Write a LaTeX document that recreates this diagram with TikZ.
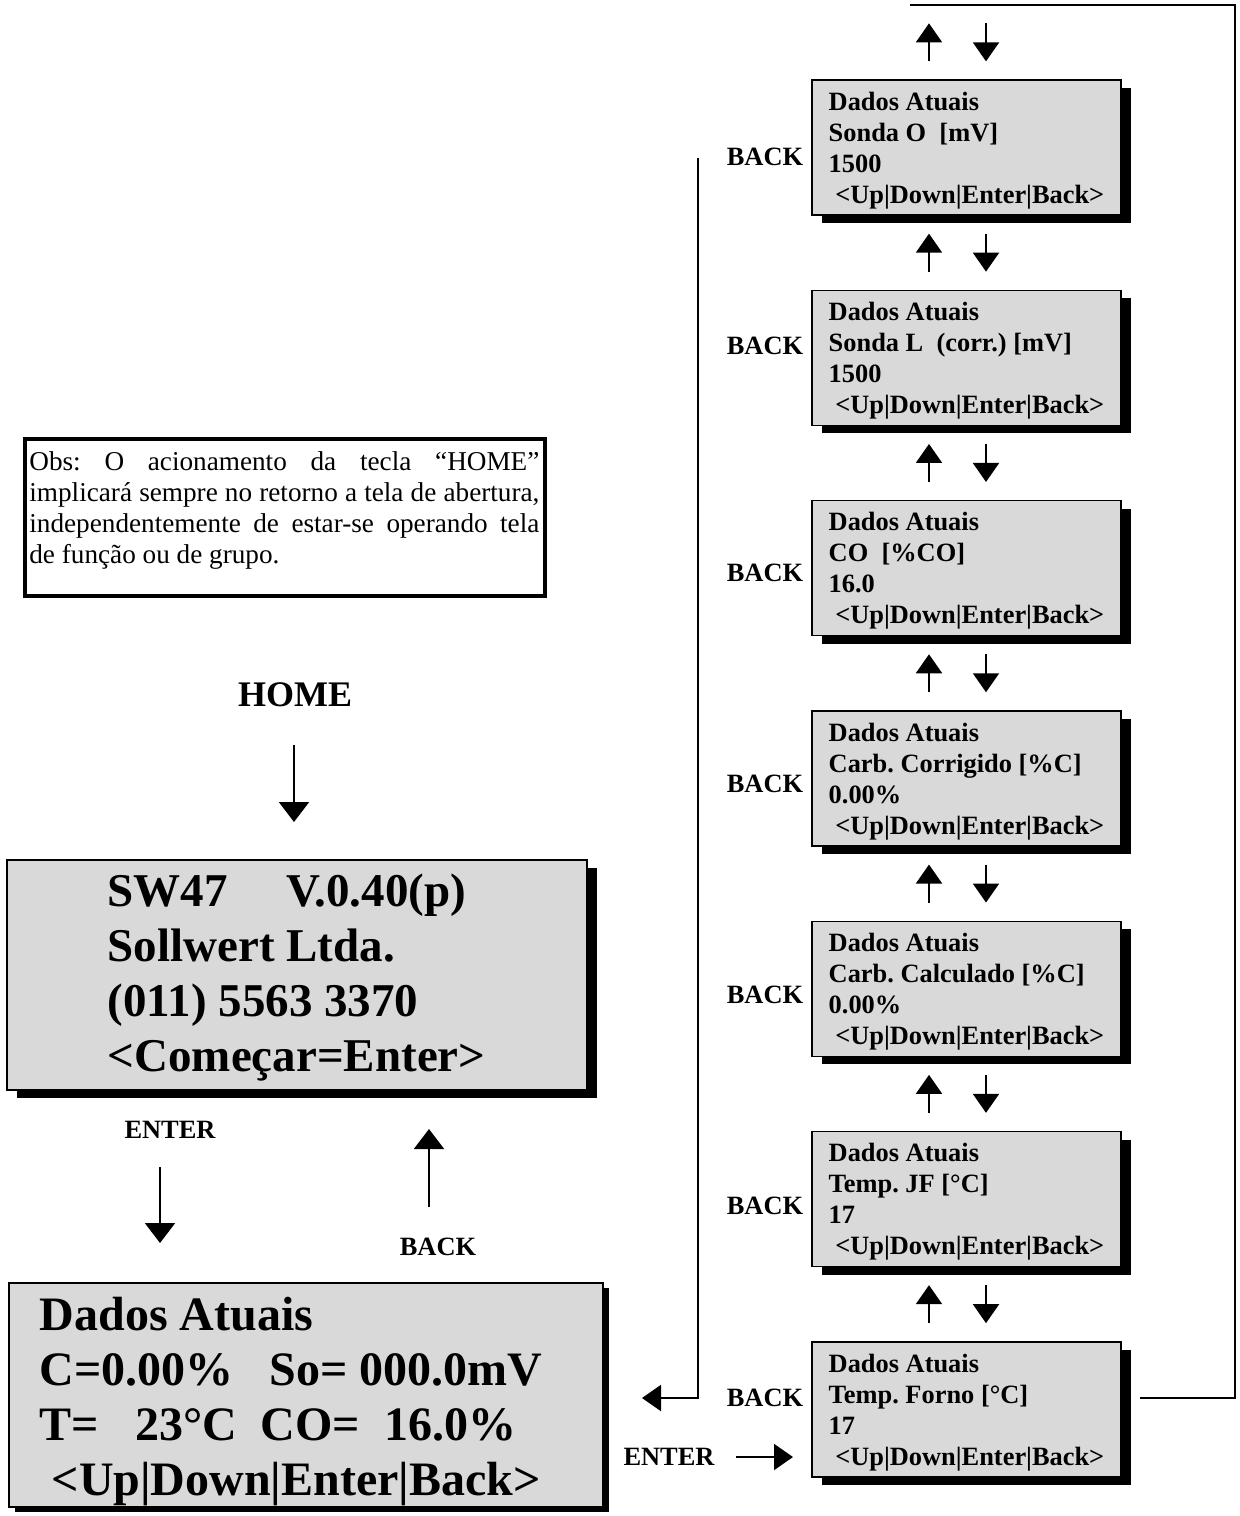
\documentclass[tikz,border=0pt]{standalone}
\usepackage{fontspec}
\setmainfont{Liberation Serif}
\usetikzlibrary{arrows.meta,shadows}
\definecolor{lcdgray}{HTML}{D9D9D9}
\frenchspacing
\tikzset{
  lcd/.style={draw=black, line width=0.7pt, fill=lcdgray, inner sep=0pt},
  smalllcd/.style={lcd, minimum width=154.5pt, minimum height=67.5pt,
    drop shadow={shadow xshift=5pt, shadow yshift=-4pt, fill=black, opacity=1}},
  lcdtext/.style={anchor=west, inner sep=0pt, align=left,
    font=\bfseries\fontsize{13.2}{15.5}\selectfont},
  keylabel/.style={inner sep=0pt, font=\bfseries\fontsize{13.2}{15}\selectfont},
  flow/.style={line width=1pt, -{Triangle[width=13pt,length=9.5pt]}},
  bigflow/.style={line width=1pt, -{Triangle[width=15pt,length=10pt]}},
  wire/.style={line width=1pt},
}
\begin{document}
\begin{tikzpicture}[x=0.5pt,y=-0.5pt]
\useasboundingbox (0,0) rectangle (1239,1516);

% ---- right column: the seven "Dados Atuais" screens ----
\foreach \i/\ln/\val/\by in {
  1/{Sonda O~~[mV]}/1500/157,
  2/{Sonda L~~(corr.) [mV]}/1500/346,
  3/{CO~~[\%CO]}/16.0/573,
  4/{Carb. Corrigido [\%C]}/{0.00\%}/784,
  5/{Carb. Calculado [\%C]}/{0.00\%}/995,
  6/{Temp. JF [°C]}/17/1206,
  7/{Temp. Forno [°C]}/17/1398}{
  \pgfmathsetmacro\yy{147.5+210.3*(\i-1)}
  \node[smalllcd] (s\i) at (966.5,\yy) {};
  \node[lcdtext] (s\i txt) at ([xshift=8.5pt,yshift=-1.5pt]s\i.west)
    {Dados Atuais\\\ln\\\val\\\hspace*{0.25em}<Up|Down|Enter|Back>};
  \node[keylabel] (back\i) at (765,\by) {BACK};
}

% ---- up / down arrow pairs around the screens ----
\foreach \k in {0,...,6}{
  \pgfmathsetmacro\yc{42.35+210.3*\k}
  \coordinate (upS\k) at (929,\yc+19);
  \coordinate (upT\k) at (929,\yc-19);
  \coordinate (dnS\k) at (986,\yc-19);
  \coordinate (dnT\k) at (986,\yc+19);
  \draw[flow] (upS\k) -- (upT\k);
  \draw[flow] (dnS\k) -- (dnT\k);
}

% ---- BACK return line to the data screen ----
\coordinate (retTop) at (698,158);
\coordinate (retCorner) at (698,1398);
\coordinate (retTip) at (642,1398);
\draw[flow] (retTop) -- (retCorner) -- (retTip);

% ---- ENTER into the last screen ----
\node[keylabel] (enterR) at (669,1457) {ENTER};
\coordinate (entS) at (736,1457);
\coordinate (entT) at (793,1457);
\draw[flow] (entS) -- (entT);

% ---- wrap-around line from the last screen to the top ----
\coordinate (loopA) at (1140,1398);
\coordinate (loopB) at (1235,1398);
\coordinate (loopC) at (1235,5);
\coordinate (loopD) at (910,5);
\draw[wire] (loopA) -- (loopB) -- (loopC) -- (loopD);

% ---- note ----
\node[draw, line width=2pt, minimum width=260pt, minimum height=78.5pt, inner sep=0pt]
  (note) at (285,517) {};
\node[anchor=north west, inner sep=0pt, text width=255pt, align=justify,
  font=\fontsize{13.6}{15.5}\selectfont] (notetxt) at (29,451)
  {\tolerance=10000\hyphenpenalty=10000
   Obs: O acionamento da tecla “HOME”\linebreak
   implicará sempre no retorno a tela de abertura,\linebreak
   independentemente de estar-se operando tela\linebreak
   de função ou de grupo.};

% ---- HOME and start screen ----
\node[inner sep=0pt, font=\bfseries\fontsize{18}{20}\selectfont] (homelbl) at (295,695) {HOME};
\coordinate (homeS) at (294,745);
\coordinate (homeT) at (294,822);
\draw[bigflow] (homeS) -- (homeT);

\node[lcd, minimum width=290pt, minimum height=115pt,
  drop shadow={shadow xshift=5pt, shadow yshift=-4pt, fill=black, opacity=1}]
  (home) at (297,975) {};
\node[anchor=west, inner sep=0pt, align=left,
  font=\bfseries\fontsize{23.5}{27.5}\selectfont] (hometxt)
  at ([xshift=50.5pt,yshift=-1.5pt]home.west)
  {SW47~~~~~V.0.40(p)\\Sollwert Ltda.\\(011) 5563 3370\\<Começar=Enter>};

% ---- ENTER / BACK between start screen and data screen ----
\node[keylabel] (enterL) at (170,1130) {ENTER};
\coordinate (eS) at (160,1167);
\coordinate (eT) at (160,1243);
\draw[bigflow] (eS) -- (eT);
\node[keylabel] (backL) at (438,1247) {BACK};
\coordinate (bS) at (429,1207);
\coordinate (bT) at (429,1129);
\draw[bigflow] (bS) -- (bT);

% ---- current data screen ----
\node[lcd, minimum width=297pt, minimum height=112pt,
  drop shadow={shadow xshift=3pt, shadow yshift=-2.5pt, fill=black, opacity=1}]
  (data) at (306,1395) {};
\node[anchor=west, inner sep=0pt, align=left,
  font=\bfseries\fontsize{24}{27.5}\selectfont] (datatxt)
  at ([xshift=15.5pt,yshift=-3.5pt]data.west)
  {Dados Atuais\\C=0.00\%~~~So=~000.0mV\\T=~~~23°C~~CO=~~16.0\%\\\hspace*{0.25em}<Up|Down|Enter|Back>};
\end{tikzpicture}
\end{document}
